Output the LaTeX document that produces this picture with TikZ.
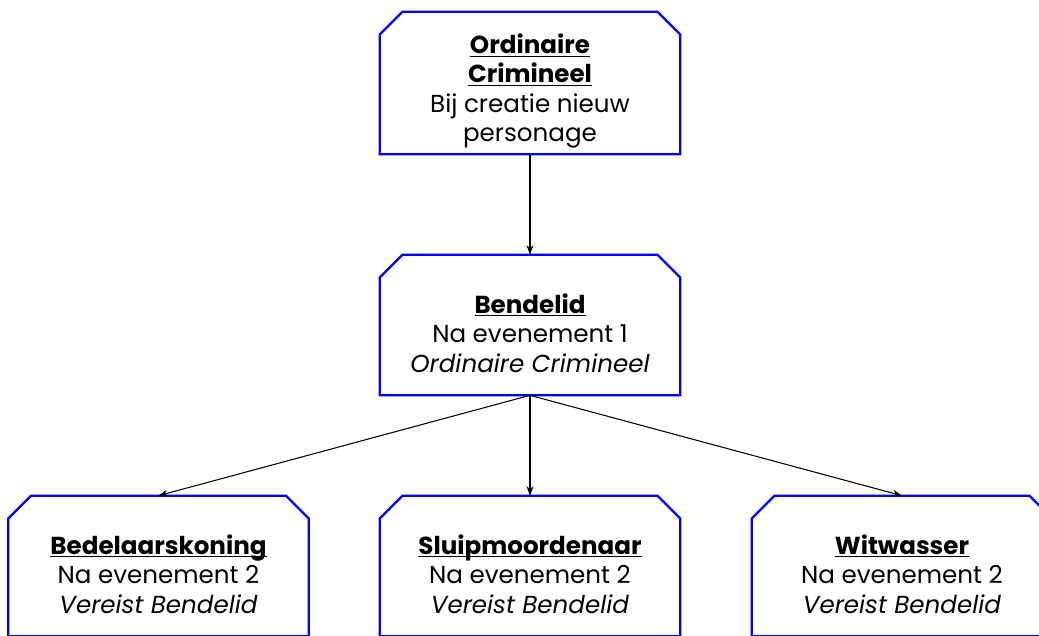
\documentclass[tikz,border=0pt]{standalone}
\usepackage{fontspec}
\setmainfont{Poppins}
\usetikzlibrary{arrows.meta}
\tikzset{
	rang/.style={rectangle, minimum width=6cm, minimum height=2.8cm, inner sep=0pt},
	rand/.style={draw=blue, line width=1.3pt, line join=miter},
	tekst/.style={align=center, inner sep=0pt, yshift=-0.36cm, font=\fontsize{14}{16.8}\selectfont},
	promotie/.style={-{Stealth[length=1.9mm,width=1.4mm]}, line width=0.6pt}
}
\newcommand{\titel}[1]{\underline{\smash{\textbf{#1}}}}

\begin{document}
\begin{tikzpicture}[x=0.02cm, y=-0.02cm]
		\useasboundingbox (0,0) rectangle (1039,636);
		\clip (0,0) rectangle (1039,636);
		\node[rang, minimum height=2.84cm, label={[tekst]center:{\titel{Ordinaire}\\\titel{Crimineel}\\Bij creatie nieuw\\personage}}] (ordinaire) at (530,83) {};
		\node[rang, label={[tekst]center:{\titel{Bendelid}\\Na evenement 1\\\textit{Ordinaire Crimineel}}}] (bendelid) at (530,325) {};
		\node[rang, label={[tekst]center:{\titel{Bedelaarskoning}\\Na evenement 2\\\textit{Vereist Bendelid}}}] (bedelaar) at (158.5,566) {};
		\node[rang, label={[tekst]center:{\titel{Sluipmoordenaar}\\Na evenement 2\\\textit{Vereist Bendelid}}}] (sluip) at (530,566) {};
		\node[rang, label={[tekst]center:{\titel{Witwasser}\\Na evenement 2\\\textit{Vereist Bendelid}}}] (witwasser) at (902,566) {};
		\foreach \n in {ordinaire,bendelid,bedelaar,sluip,witwasser}
			\draw[rand] (\n.south west) -- ([yshift=-0.46cm]\n.north west) -- ([xshift=0.46cm]\n.north west) -- ([xshift=-0.46cm]\n.north east) -- ([yshift=-0.46cm]\n.north east) -- (\n.south east) -- cycle;
		\draw[promotie] (ordinaire.south) -- (bendelid.north);
		\draw[promotie] (bendelid.south) -- (bedelaar.north);
		\draw[promotie] (bendelid.south) -- (sluip.north);
		\draw[promotie] (bendelid.south) -- (witwasser.north);
	\end{tikzpicture}
\end{document}
